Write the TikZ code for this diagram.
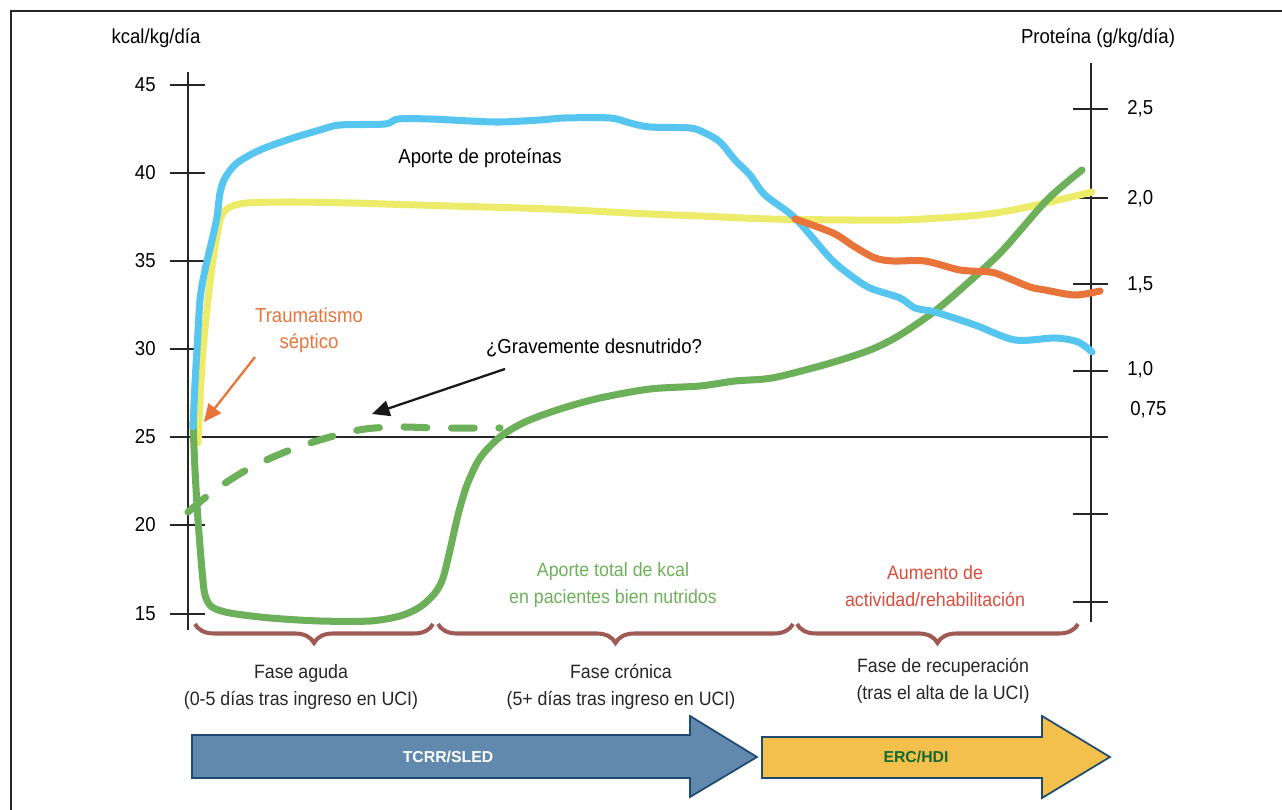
\documentclass[tikz,border=0pt]{standalone}
\usepackage{fontspec}
\setmainfont{Liberation Sans}[FakeStretch=0.92]
\newfontfamily\arrowfont{Liberation Sans}
\usetikzlibrary{arrows.meta,decorations.pathreplacing}
\definecolor{myBlue}{HTML}{56C5F0}
\definecolor{myYellow}{HTML}{EDEB6A}
\definecolor{myGreen}{HTML}{6DB05A}
\definecolor{myOrange}{HTML}{E8743A}
\definecolor{myRed}{HTML}{DA4B3A}
\definecolor{myBrown}{HTML}{A05A55}
\definecolor{myArrowBlue}{HTML}{6089AD}
\definecolor{myArrowYellow}{HTML}{F2C04B}
\definecolor{myBorder}{HTML}{1F4A72}
\definecolor{myDarkGreen}{HTML}{17692F}

\begin{document}
\begin{tikzpicture}[x=0.02cm,y=-0.02cm,font=\fontsize{11.5}{14.7}\selectfont]
	\tikzset{curve/.style = {line width=4pt, line cap=round, line join=round, smooth, tension=0.5}}
	\tikzset{axis/.style = {line width=1.3pt, black!85}}
	\tikzset{phase/.style = {align=center, black!85, font=\fontsize{11}{15}\selectfont}}
	\tikzset{bracestyle/.style = {myBrown, line width=2.3pt, decorate, decoration={brace, mirror, amplitude=10.8pt}}}
	\tikzset{blockarrow/.style = {draw=myBorder, line width=1pt, line join=miter}}
	\useasboundingbox (0,0) rectangle (1282,810);
	\draw[line width=1.5pt, black!85] (11,810) -- (11,11) -- (1282,11);
	
	% Achsen
	\draw[axis] (188,72) -- (188,630);
	\draw[axis] (1091,63) -- (1091,622);
	\draw[axis] (188,437) -- (1108,437);
	\foreach \v/\y in {45/85,40/173,35/261,30/349,25/437,20/525,15/614}{
		\draw[axis] (170,\y) -- (205,\y);
		\node[anchor=east, inner sep=0pt] (k\v) at (156,\y) {\v};
	}
	\foreach \y in {109,198,284,371,514,602}
		\draw[axis] (1073,\y) -- (1108,\y);
	\foreach \t/\y in {25/109,20/199,15/285,10/370}
		\node[anchor=west, inner sep=0pt] (p\t) at (1127,\y) {\ifnum\t=25 2,5\fi\ifnum\t=20 2,0\fi\ifnum\t=15 1,5\fi\ifnum\t=10 1,0\fi};
	\node[anchor=west, inner sep=0pt] (p075) at (1130,410) {0,75};
	\node (kcal) at (156,38) {kcal/kg/día};
	\node (prot) at (1098,38) {Proteína (g/kg/día)};
	
	% Kurven
	\draw[curve, myYellow] plot coordinates {(198,443) (200,400) (203,350) (208,300) (213,260) (218,230) (222,215) (230,207) (247,203) (290,202) (350,203) (450,206) (550,209) (650,214) (700,216) (770,219) (850,220) (900,220) (940,218) (980,215) (1013,210) (1050,202) (1092,192)};
	\draw[curve, myGreen] plot coordinates {(193,423) (195,470) (198,520) (202,570) (205,595) (212,607) (230,613) (270,618) (320,621) (370,621) (400,616) (420,607) (435,593) (443,578) (450,550) (458,515) (467,485) (480,458) (500,437) (525,422) (560,409) (600,398) (650,389) (700,386) (735,381) (772,378) (820,366) (850,357) (875,348) (900,335) (935,311) (970,281) (1003,250) (1047,200) (1082,170)};
	\draw[curve, myGreen, dash pattern=on 13pt off 14pt] plot coordinates {(188,512) (215,490) (250,468) (290,450) (330,437) (365,429) (400,427) (440,428) (500,428)};
	\draw[curve, myBlue] plot coordinates {(193,427) (195,383) (197,350) (200,300) (205,270) (212,240) (217,217) (220,193) (225,178) (237,163) (260,150) (290,139) (320,130) (340,125) (385,124) (398,119) (430,119) (470,121) (500,122) (540,120) (565,118) (610,118) (630,123) (650,127) (690,128) (705,133) (720,142) (735,160) (750,175) (765,195) (795,218) (830,258) (850,275) (870,288) (900,298) (915,308) (935,312) (975,325) (1015,340) (1055,338) (1078,342) (1092,352)};
	\draw[curve, myOrange] plot coordinates {(795,219) (833,233) (855,247) (875,258) (893,261) (925,261) (960,270) (990,272) (1003,276) (1030,287) (1045,290) (1075,295) (1100,291)};
	
	% Beschriftung
	\node (aporteprot) at (480,158) {Aporte de proteínas};
	\node[align=center, myOrange] (trauma) at (309,330) {Traumatismo\\séptico};
	\node (grave) at (594,348) {¿Gravemente desnutrido?};
	\node[align=center, myGreen, font=\fontsize{11}{15}\selectfont] (aportekcal) at (613,585) {Aporte total de kcal\\en pacientes bien nutridos};
	\node[align=center, myRed, font=\fontsize{11}{15}\selectfont] (aumento) at (935,586) {Aumento de\\actividad/rehabilitación};
	\coordinate (traumaA) at (255,357);
	\coordinate (traumaB) at (204,422);
	\coordinate (graveA) at (505,369);
	\coordinate (graveB) at (372,414);
	\draw[myOrange, line width=1.3pt, -{Triangle[length=10pt,width=9pt]}] (traumaA) -- (traumaB);
	\draw[black!90, line width=1.3pt, -{Triangle[length=10pt,width=9pt]}] (graveA) -- (graveB);
	
	% Phasen
	\draw[bracestyle] (195,624) -- (433,624);
	\draw[bracestyle] (438,624) -- (793,624);
	\draw[bracestyle] (797,624) -- (1078,624);
	\node[phase] (aguda) at (301,687) {Fase aguda\\(0-5 días tras ingreso en UCI)};
	\node[phase] (cronica) at (621,687) {Fase crónica\\(5+ días tras ingreso en UCI)};
	\node[phase] (recup) at (943,681) {Fase de recuperación\\(tras el alta de la UCI)};
	
	% Pfeile
	\draw[blockarrow, fill=myArrowBlue] (192,735) -- (690,735) -- (690,716) -- (757,757) -- (690,797) -- (690,778) -- (192,778) -- cycle;
	\draw[blockarrow, fill=myArrowYellow] (762,737) -- (1042,737) -- (1042,716) -- (1110,757) -- (1042,798) -- (1042,778) -- (762,778) -- cycle;
	\node[white, font=\arrowfont\bfseries\fontsize{9}{10}\selectfont] (tcrr) at (448,757) {TCRR/SLED};
	\node[myDarkGreen, font=\arrowfont\bfseries\fontsize{9}{10}\selectfont] (erc) at (916,757) {ERC/HDI};
\end{tikzpicture}
\end{document}
